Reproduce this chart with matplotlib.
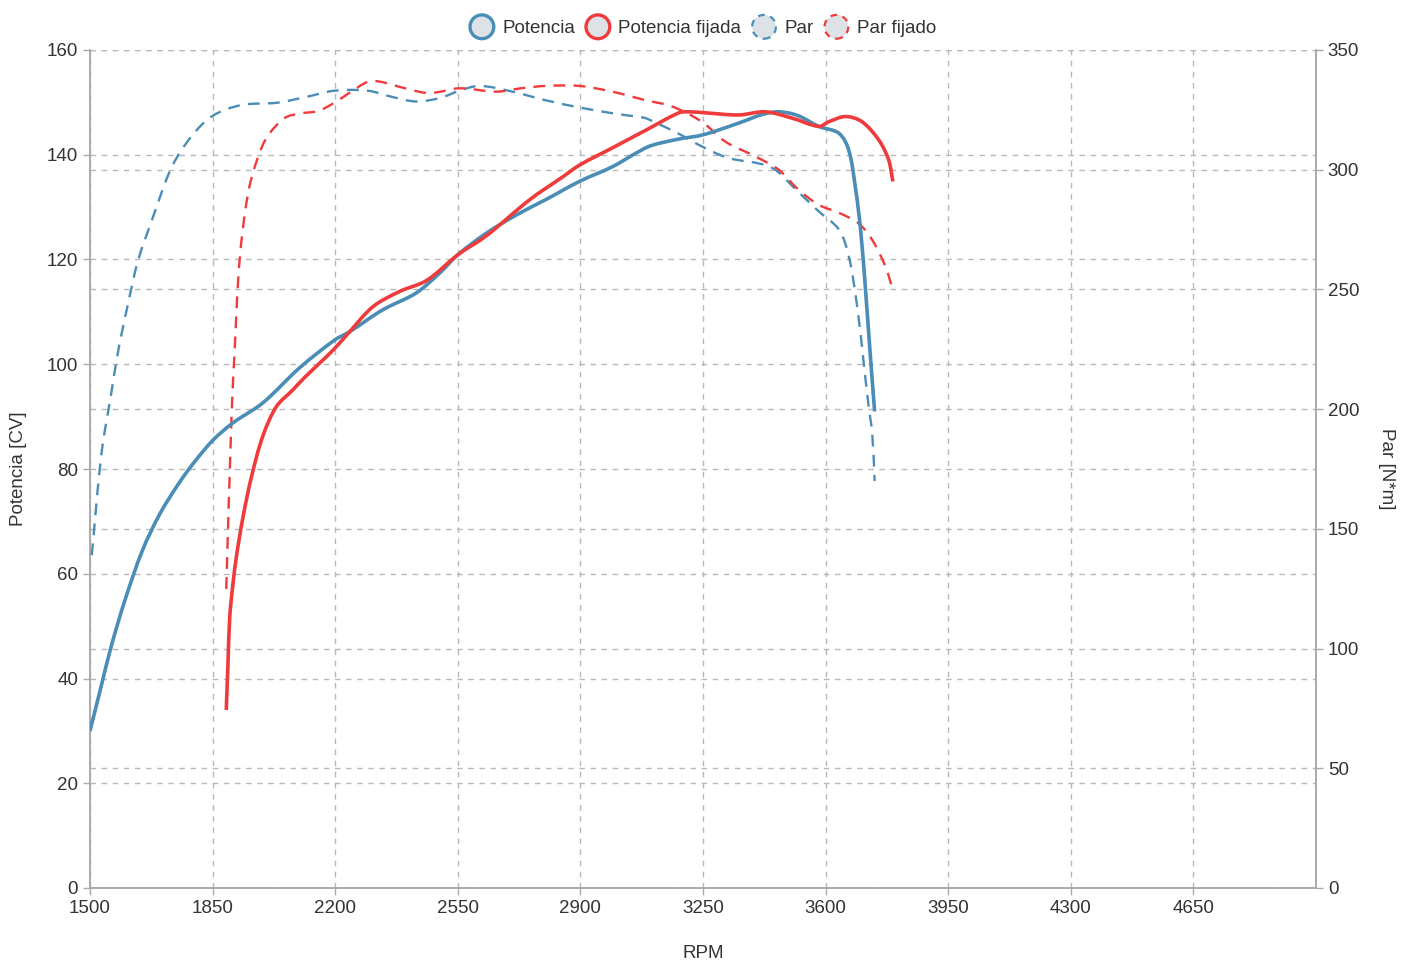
import matplotlib
matplotlib.use("Agg")
import numpy as np
import matplotlib.pyplot as plt
import matplotlib.patches as mpatches
from matplotlib.path import Path
from matplotlib.legend_handler import HandlerPatch

plt.rcParams['font.family'] = ['Liberation Sans', 'DejaVu Sans']

# ---------------- data ----------------
rpm_pot = [1500, 1530, 1560, 1600, 1650, 1700, 1756, 1800, 1851, 1908, 1993, 2098, 2198,
           2241, 2336, 2431, 2498, 2550, 2631, 2717, 2803, 2897, 2991, 3056, 3100, 3181,
           3250, 3350, 3420, 3466, 3520, 3581, 3638, 3666, 3686, 3700, 3714, 3728, 3740]
potencia = [30, 38, 46, 55, 64.5, 71.5, 77.5, 81.5, 85.5, 88.8, 92.6, 99.3, 104.6,
            106.2, 110.4, 113.6, 117.4, 120.9, 125, 128.5, 131.5, 134.9, 137.7, 140.2, 141.7, 143,
            143.8, 146, 147.7, 148.2, 147.5, 145.4, 144.1, 140.9, 133.3, 125.6, 114.2, 101.4, 91]

rpm_potf = [1889, 1894, 1899, 1908, 1918, 1937, 1961, 1993, 2032, 2079, 2113, 2194, 2241,
            2308, 2384, 2461, 2550, 2631, 2755, 2850, 2897, 2991, 3087, 3181, 3210, 3257,
            3352, 3428, 3504, 3581, 3609, 3657, 3704, 3752, 3780, 3792]
potencia_fijada = [34, 43, 51.8, 58, 63.3, 70.9, 78.5, 86.2, 91.9, 95.1, 97.5, 102.7, 106.2,
                   111, 113.9, 116, 120.9, 124.5, 131.4, 135.8, 138, 141.3, 144.7, 148, 148.2, 148,
                   147.6, 148.2, 147, 145.4, 146.3, 147.3, 146.3, 142.8, 139, 134.9]

rpm_par = [1505, 1533, 1560, 1581, 1610, 1637, 1676, 1733, 1790, 1850, 1932, 2036, 2120,
           2198, 2293, 2360, 2431, 2500, 2555, 2612, 2706, 2801, 2897, 2991, 3068, 3087,
           3181, 3243, 3320, 3444, 3520, 3581, 3638, 3666, 3690, 3709, 3723, 3733, 3740]
par = [139, 181.7, 206, 224.7, 245, 262, 278.6, 301, 314, 322.5, 327, 328, 330.5,
       333, 333, 330.5, 328.5, 330, 333, 335, 332.6, 329, 326, 323.6, 322, 321.5,
       315, 310, 305, 301, 291, 282.5, 275, 264, 243, 219, 201, 190, 170]

rpm_parf = [1889, 1904, 1913, 1927, 1951, 1979, 2007, 2056, 2100, 2150, 2198, 2250, 2293,
            2327, 2400, 2469, 2555, 2659, 2730, 2801, 2897, 2991, 3087, 3162, 3247, 3314,
            3400, 3466, 3523, 3581, 3638, 3694, 3733, 3771, 3792]
par_fijado = [124.9, 196.7, 224.7, 262, 290, 305, 314, 321.6, 323.5, 324.5, 328, 333, 336.7,
              336.8, 334, 332, 334, 332.6, 334, 335, 335, 332.6, 329, 326.4, 320, 311.7,
              305.5, 300, 291.6, 285.3, 282, 277.6, 270.7, 259.5, 249.8]

x_ticks = [1500, 1850, 2200, 2550, 2900, 3250, 3600, 3950, 4300, 4650]
y_left_ticks = [0, 20, 40, 60, 80, 100, 120, 140, 160]
y_right_ticks = [0, 50, 100, 150, 200, 250, 300, 350]

BLUE = "#4a8db6"
RED = "#ef3b3b"
GRID = "#b8b8b8"
SPINE = "#aaaaaa"
TXT = "#333333"
FS = 13.5

fig = plt.figure(figsize=(14.12, 9.6), dpi=100)
ax = fig.add_axes([90/1412, 1-888/960, (1316-90)/1412, (888-50)/960])
ax2 = ax.twinx()

ax.set_xlim(1500, 5000)
ax.set_ylim(0, 160)
ax2.set_ylim(0, 350)
ax.set_xticks(x_ticks)
ax.set_yticks(y_left_ticks)
ax2.set_yticks(y_right_ticks)

for a in (ax, ax2):
    for s in a.spines.values():
        s.set_color(SPINE)
        s.set_linewidth(1.2)
    a.spines['top'].set_visible(False)
    a.tick_params(colors=SPINE, labelcolor=TXT, labelsize=FS, length=5, width=1)

ax.grid(True, color=GRID, linestyle=(0, (4, 4)), linewidth=1)
ax2.yaxis.grid(True, color=GRID, linestyle=(0, (4, 4)), linewidth=1)
ax.set_axisbelow(True)
ax2.set_axisbelow(True)

ax.set_xlabel("RPM", fontsize=FS, color=TXT, labelpad=20)
ax.set_ylabel("Potencia [CV]", fontsize=FS, color=TXT, labelpad=14)
ax2.set_ylabel("Par [N*m]", fontsize=FS, color=TXT, rotation=270, labelpad=26)


def smooth_path(axis, xs, ys):
    """Cubic Bezier path through the data points (chord-length Catmull-Rom)."""
    P = np.column_stack([xs, ys]).astype(float)
    D = axis.transData.transform(P)
    d = np.hypot(*np.diff(D, axis=0).T)
    n = len(P)
    T = np.zeros_like(P)
    for i in range(n):
        if i == 0:
            T[i] = (P[1] - P[0]) / d[0]
        elif i == n - 1:
            T[i] = (P[-1] - P[-2]) / d[-1]
        else:
            T[i] = (P[i + 1] - P[i - 1]) / (d[i - 1] + d[i])
    verts = [tuple(P[0])]
    codes = [Path.MOVETO]
    for i in range(n - 1):
        c1 = P[i] + T[i] * d[i] / 3
        c2 = P[i + 1] - T[i + 1] * d[i] / 3
        verts += [tuple(c1), tuple(c2), tuple(P[i + 1])]
        codes += [Path.CURVE4] * 3
    return Path(verts, codes)


def draw(axis, xs, ys, color, lw, ls, z):
    patch = mpatches.PathPatch(smooth_path(axis, xs, ys), facecolor='none', edgecolor=color,
                               lw=lw, linestyle=ls, zorder=z, capstyle='butt', joinstyle='round')
    axis.add_patch(patch)


draw(ax2, rpm_par, par, BLUE, 1.7, (0, (5, 3.5)), 3)
draw(ax2, rpm_parf, par_fijado, RED, 1.7, (0, (5, 3.5)), 3)
draw(ax2, rpm_pot, [v * 350 / 160 for v in potencia], BLUE, 2.6, '-', 4)
draw(ax2, rpm_potf, [v * 350 / 160 for v in potencia_fijada], RED, 2.6, '-', 4)


class HandlerCircle(HandlerPatch):
    def create_artists(self, legend, orig_handle, xdescent, ydescent, width, height,
                       fontsize, trans):
        center = (0.5 * width - xdescent, 0.5 * height - ydescent)
        p = mpatches.Circle(xy=center, radius=0.6 * height)
        self.update_prop(p, orig_handle, legend)
        p.set_transform(trans)
        return [p]


FILL = "#dde2e6"
handles = [
    mpatches.Circle((0, 0), facecolor=FILL, edgecolor=BLUE, linewidth=2.4),
    mpatches.Circle((0, 0), facecolor=FILL, edgecolor=RED, linewidth=2.4),
    mpatches.Circle((0, 0), facecolor=FILL, edgecolor=BLUE, linewidth=1.6, linestyle=(0, (3, 2.5))),
    mpatches.Circle((0, 0), facecolor=FILL, edgecolor=RED, linewidth=1.6, linestyle=(0, (3, 2.5))),
]
labels = ["Potencia", "Potencia fijada", "Par", "Par fijado"]
leg = fig.legend(handles, labels, loc='center', bbox_to_anchor=(703/1412, 1-27/960),
                 ncol=4, frameon=False, fontsize=FS, handlelength=1.25, handleheight=1.25,
                 handletextpad=0.45, columnspacing=0.6,
                 handler_map={mpatches.Circle: HandlerCircle()})
for t in leg.get_texts():
    t.set_color(TXT)

fig.savefig("out.png", dpi=100)
